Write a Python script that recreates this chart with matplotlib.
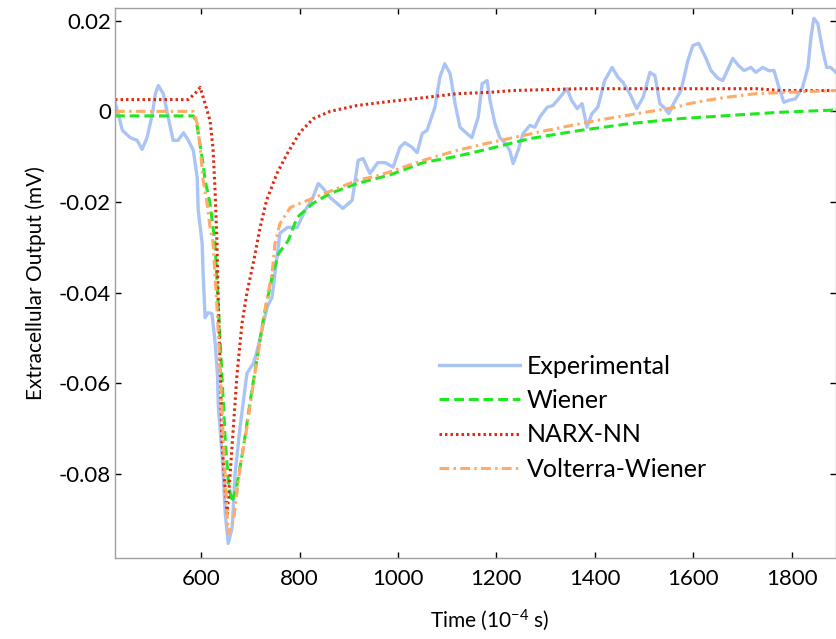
import numpy as np
import matplotlib
matplotlib.use("Agg")
import matplotlib.pyplot as plt
from matplotlib.ticker import FuncFormatter

plt.rcParams['font.family'] = ['Lato', 'DejaVu Sans']
plt.rcParams['mathtext.default'] = 'regular'
plt.rcParams['axes.unicode_minus'] = False

# Experimental (noisy measured trace)
exp_t = [425, 440, 456, 470, 480, 490, 501, 507, 513, 523, 533, 543, 553, 564, 574,
         584, 592, 594, 602, 604, 608, 614, 622, 628, 633, 635, 643, 649, 655, 663,
         669, 679, 693, 706, 714, 734, 744, 754, 760, 775, 795, 811, 827, 838, 848,
         862, 876, 888, 907, 919, 929, 943, 959, 974, 990, 1004, 1014, 1028, 1039,
         1049, 1059, 1075, 1085, 1095, 1106, 1116, 1126, 1140, 1150, 1163, 1171, 1181,
         1187, 1197, 1207, 1217, 1227, 1234, 1244, 1254, 1268, 1278, 1288, 1303, 1315,
         1329, 1343, 1353, 1364, 1374, 1384, 1394, 1406, 1420, 1435, 1447, 1457, 1471,
         1485, 1498, 1512, 1522, 1532, 1540, 1550, 1560, 1575, 1589, 1599, 1611, 1625,
         1636, 1650, 1660, 1672, 1680, 1692, 1703, 1717, 1727, 1741, 1753, 1764, 1774,
         1784, 1794, 1808, 1822, 1833, 1839, 1845, 1853, 1863, 1871, 1879, 1890]
exp_v = [0.0020, -0.0042, -0.0058, -0.0064, -0.0084, -0.0058, -0.0005, 0.0039, 0.0057,
         0.0039, -0.0013, -0.0064, -0.0064, -0.0047, -0.0064, -0.0086, -0.0146, -0.0218,
         -0.0291, -0.0357, -0.0455, -0.0444, -0.0446, -0.0505, -0.0578, -0.0653, -0.0763,
         -0.0887, -0.0953, -0.0918, -0.0799, -0.0697, -0.0578, -0.0556, -0.0527, -0.0432,
         -0.0410, -0.0322, -0.0269, -0.0256, -0.0256, -0.0219, -0.0190, -0.0159, -0.0170,
         -0.0190, -0.0203, -0.0214, -0.0196, -0.0108, -0.0104, -0.0137, -0.0113, -0.0113,
         -0.0123, -0.0079, -0.0069, -0.0079, -0.0091, -0.0049, -0.0042, 0.0009, 0.0075,
         0.0105, 0.0083, 0.0017, -0.0035, -0.0049, -0.0058, -0.0013, 0.0061, 0.0068,
         0.0024, -0.0027, -0.0058, -0.0069, -0.0086, -0.0115, -0.0086, -0.0049, -0.0031,
         -0.0035, -0.0013, 0.0009, 0.0013, 0.0031, 0.0050, 0.0024, 0.0006, 0.0017,
         -0.0035, -0.0005, 0.0009, 0.0068, 0.0097, 0.0075, 0.0064, 0.0039, 0.0006, 0.0031,
         0.0086, 0.0079, 0.0017, 0.0009, -0.0005, 0.0017, 0.0046, 0.0112, 0.0145, 0.0150,
         0.0119, 0.0090, 0.0073, 0.0068, 0.0097, 0.0117, 0.0101, 0.0090, 0.0097, 0.0086,
         0.0097, 0.0090, 0.0090, 0.0053, 0.0020, 0.0024, 0.0028, 0.0053, 0.0097, 0.0163,
         0.0205, 0.0194, 0.0134, 0.0097, 0.0097, 0.0086]

# Wiener model
wien_t = [425, 584, 590, 602, 608, 618, 628, 635, 642, 649, 655, 662, 672, 686, 700,
          713, 727, 744, 757, 777, 795, 827, 862, 917, 984, 1051, 1120, 1187, 1268,
          1370, 1471, 1573, 1674, 1776, 1890]
wien_v = [-0.0010, -0.0010, -0.0020, -0.0102, -0.0152, -0.0203, -0.0290, -0.0432,
          -0.0578, -0.0726, -0.0814, -0.0862, -0.0829, -0.0740, -0.0637, -0.0549,
          -0.0454, -0.0366, -0.0314, -0.0285, -0.0234, -0.0203, -0.0181, -0.0159,
          -0.0140, -0.0113, -0.0099, -0.0082, -0.0060, -0.0042, -0.0027, -0.0016,
          -0.0009, -0.0002, 0.0003]

# NARX-NN model
narx_t = [425, 574, 588, 598, 608, 618, 624, 628, 632, 635, 639, 642, 649, 653, 659,
          666, 673, 683, 693, 707, 720, 733, 754, 775, 801, 828, 862, 917, 984, 1051,
          1120, 1187, 1234, 1370, 1729, 1776, 1890]
narx_v = [0.0026, 0.0026, 0.0040, 0.0053, 0.0017, -0.0020, -0.0080, -0.0168, -0.0285,
          -0.0432, -0.0578, -0.0726, -0.0836, -0.0887, -0.0799, -0.0688, -0.0578,
          -0.0468, -0.0400, -0.0329, -0.0255, -0.0196, -0.0137, -0.0093, -0.0046,
          -0.0016, 0.0000, 0.0013, 0.0022, 0.0030, 0.0039, 0.0042, 0.0046, 0.0050,
          0.0050, 0.0046, 0.0046]

# Volterra-Wiener model
volt_t = [425, 584, 592, 598, 604, 612, 618, 624, 632, 639, 645, 652, 655, 666, 679,
          693, 706, 720, 733, 744, 750, 760, 781, 801, 842, 876, 917, 963, 1051, 1120,
          1187, 1234, 1302, 1404, 1524, 1565, 1591, 1626, 1660, 1727, 1794, 1890]
volt_v = [0.0000, 0.0000, -0.0027, -0.0080, -0.0152, -0.0203, -0.0256, -0.0288,
          -0.0432, -0.0578, -0.0726, -0.0873, -0.0931, -0.0900, -0.0785, -0.0697,
          -0.0600, -0.0505, -0.0417, -0.0358, -0.0292, -0.0248, -0.0212, -0.0203,
          -0.0185, -0.0170, -0.0152, -0.0141, -0.0108, -0.0086, -0.0069, -0.0058,
          -0.0042, -0.0020, 0.0002, 0.0009, 0.0017, 0.0024, 0.0030, 0.0039, 0.0042,
          0.0046]

x_ticks = [600, 800, 1000, 1200, 1400, 1600, 1800]
y_ticks = [-0.08, -0.06, -0.04, -0.02, 0, 0.02]

fig = plt.figure(figsize=(8.36, 6.39), dpi=100)
ax = fig.add_axes([0.1376, 0.1268, 0.8624, 0.8607])

ax.plot(exp_t, exp_v, '-', color='#aac4f6', lw=2.4, label='Experimental')
ax.plot(wien_t, wien_v, '--', color='#1ee81e', lw=2.2, dashes=(3.2, 1.6), label='Wiener')
ax.plot(narx_t, narx_v, ':', color='#dd2a10', lw=2.2, dashes=(0.8, 1.0), label='NARX-NN')
ax.plot(volt_t, volt_v, '-.', color='#ffaa66', lw=2.2, dashes=(3.2, 1.4, 0.8, 1.4),
        label='Volterra-Wiener')

ax.set_xlim(425, 1890)
ax.set_ylim(-0.0985, 0.0228)
ax.set_xticks(x_ticks)
ax.set_yticks(y_ticks)
ax.yaxis.set_major_formatter(FuncFormatter(lambda v, p: f"{round(v, 3):g}"))
ax.tick_params(direction='in', length=4, width=1, color='black',
               top=True, right=True, labelsize=16)
ax.tick_params(axis='x', pad=8)
ax.tick_params(axis='y', pad=3)
for s in ax.spines.values():
    s.set_color('#a0a0a0')
    s.set_linewidth(1)

ax.set_xlabel('Time (10$^{-4}$ s)', fontsize=15)
ax.xaxis.set_label_coords(0.519, -0.09)
ax.set_ylabel('Extracellular Output (mV)', fontsize=15, labelpad=9)

ax.legend(loc='upper left', bbox_to_anchor=(0.4188, 0.41), frameon=False,
          fontsize=18, handlelength=3.24, handletextpad=0.25, labelspacing=0.45)

plt.savefig('out.png', dpi=100)
